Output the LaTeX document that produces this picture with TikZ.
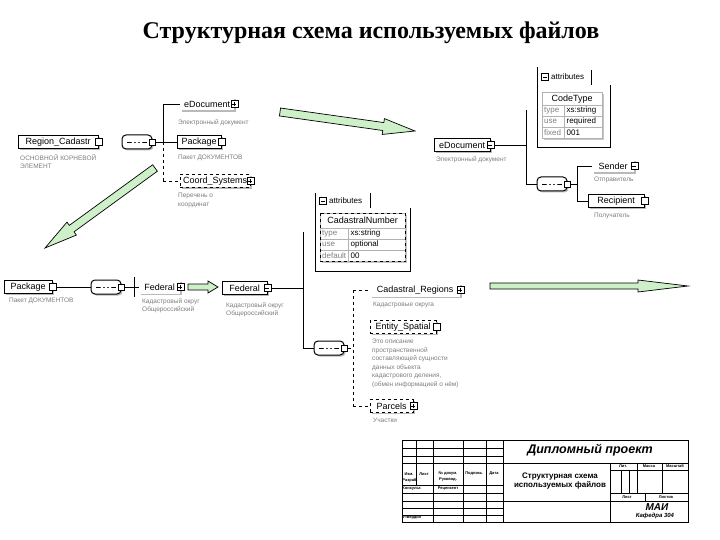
\documentclass[tikz,border=0pt]{standalone}
\usepackage{fontspec}
\setmainfont{Liberation Serif}
\newfontfamily\xsdfont{Liberation Sans}
\usetikzlibrary{calc, positioning, shadows}
\definecolor{arrowgreen}{RGB}{206, 240, 200}
\definecolor{notegray}{RGB}{125, 125, 125}

\tikzset{
  elem/.style={draw, fill=white, font=\xsdfont\fontsize{9}{10}\selectfont, inner xsep=3pt, inner ysep=0pt,
    minimum height=13pt, drop shadow={shadow xshift=1.5pt, shadow yshift=-1.5pt, fill=gray!55, opacity=1}},
  optelem/.style={elem, dashed},
  bareelem/.style={elem, draw=none},
  note/.style={anchor=north west, align=left, text=notegray, font=\xsdfont\fontsize{6.5}{8.5}\selectfont, inner sep=0pt},
  expbox/.style={draw, solid, fill=white, minimum size=7pt, inner sep=0pt},
  plusbox/.style={expbox, path picture={
      \draw[solid] ([xshift=1.5pt]path picture bounding box.west) -- ([xshift=-1.5pt]path picture bounding box.east);
      \draw[solid] ([yshift=1.5pt]path picture bounding box.south) -- ([yshift=-1.5pt]path picture bounding box.north);}},
  minusbox/.style={expbox, path picture={
      \draw[solid] ([xshift=1.5pt]path picture bounding box.west) -- ([xshift=-1.5pt]path picture bounding box.east);}},
  seqbox/.style={draw, line width=1pt, fill=white, rounded corners=4pt, minimum width=30pt, minimum height=14pt, inner sep=0pt,
    drop shadow={shadow xshift=1.5pt, shadow yshift=-1.5pt, fill=gray!55, opacity=1},
    path picture={
      \draw[sharp corners, solid, line width=0.8pt] ([xshift=5pt]path picture bounding box.west) -- ([xshift=-5pt]path picture bounding box.east);
      \foreach \d in {-4,0,4} \fill ([xshift=\d pt]path picture bounding box.center) circle (1.6pt);}},
  tblcell/.style={draw=gray!60, fill=white, anchor=north west, minimum height=11pt, inner ysep=0pt, inner xsep=2pt,
    align=left, font=\xsdfont\fontsize{8}{9}\selectfont,
    drop shadow={shadow xshift=1.5pt, shadow yshift=-1.5pt, fill=gray!45, opacity=1}},
  tblhead/.style={tblcell, align=center, minimum height=13pt, font=\xsdfont\fontsize{9}{10}\selectfont},
  tree/.style={line width=0.8pt},
  opttree/.style={line width=0.8pt, dashed},
  fatarr/.style={draw=black, fill=arrowgreen, line width=0.7pt, line join=miter},
  tbtxt/.style={inner sep=0pt, font=\xsdfont\bfseries\fontsize{4}{5}\selectfont},
}

% fat green arrow: from, to, half shaft, half head, head length
\newcommand{\fatarrow}[5]{%
  \coordinate (fahb) at ($(#2)!#5!(#1)$);
  \draw[fatarr] ($(#1)!#3!90:(#2)$) -- ($(fahb)!#3!90:(#2)$) -- ($(fahb)!#4!90:(#2)$) -- (#2)
    -- ($(fahb)!#4!-90:(#2)$) -- ($(fahb)!#3!-90:(#2)$) -- ($(#1)!#3!-90:(#2)$) -- cycle;}

\begin{document}
\begin{tikzpicture}[x=1pt, y=-1pt]
  \useasboundingbox (0,0) rectangle (720,540);

  \node[font=\bfseries\fontsize{24}{28}\selectfont] (title) at (371,33) {Структурная схема используемых файлов};

  % root element
  \node[elem, anchor=west, minimum width=80pt] (regcad) at (18,142) {Region\_Cadastr};
  \node[expbox] (regcadx) at (regcad.east) {};
  \node[note] (regcadn) at (20,154) {ОСНОВНОЙ КОРНЕВОЙ\\ЭЛЕМЕНТ};
  \node[seqbox] (seq1) at (137,142) {};
  \node[expbox, minimum size=6pt] (seq1x) at (seq1.east) {};
  \coordinate (trunk1) at (163,142);
  \coordinate (trunk1top) at (163,104);
  \coordinate (trunk1bot) at (163,181);
  \draw[tree] (seq1x.east) -- (trunk1);
  \draw[tree] (trunk1top) -- (trunk1);
  \draw[opttree] (trunk1) -- (trunk1bot);

  \node[bareelem, anchor=west, minimum width=54pt] (edoc1) at (180,104) {eDocument};
  \node[plusbox] (edoc1x) at (edoc1.east) {};
  \node[note] (edoc1n) at (178,119) {Электронный документ};
  \draw[tree] (trunk1top) -- (edoc1.west);

  \node[elem, anchor=west, minimum width=44pt] (pack1) at (177,142) {Package};
  \node[expbox] (pack1x) at (pack1.east) {};
  \node[note] (pack1n) at (178,155) {Пакет ДОКУМЕНТОВ};
  \draw[tree] (trunk1) -- (pack1.west);

  \node[optelem, anchor=west] (coord) at (180,181) {Coord\_Systems};
  \node[plusbox] (coordx) at (coord.east) {};
  \node[note] (coordn) at (178,193) {Перечень о\\координат};
  \draw[opttree] (trunk1bot) -- (coord.west);

  % eDocument
  \node[elem, anchor=west, minimum width=56pt] (edoc2) at (434,145) {eDocument};
  \node[minusbox] (edoc2x) at (edoc2.east) {};
  \node[note] (edoc2n) at (436,156) {Электронный документ};
  \coordinate (trunk2) at (526,145);
  \coordinate (trunk2top) at (526,110);
  \coordinate (trunk2bot) at (526,184);
  \draw[tree] (edoc2x.east) -- (trunk2);
  \draw[tree] (trunk2top) -- (trunk2bot);

  \draw[line width=0.8pt] (537,67) -- (537,147) -- (610,147) -- (610,85);
  \draw[line width=0.8pt] (591,70) -- (591,85);
  \node[minusbox] (attr1x) at (545,77) {};
  \node[anchor=west, inner sep=0pt, font=\xsdfont\fontsize{8}{9}\selectfont] (attr1) at (551,77) {attributes};
  \node[tblhead, text width=56pt] (codetype) at (542,92) {CodeType};
  \foreach \k/\v [count=\i] in {type/xs:string, use/required, fixed/001} {
    \node[tblcell, text width=18pt, text=gray] (ctk\i) at (542,{94+11*\i}) {\k};
    \node[tblcell, text width=34pt] (ctv\i) at (ctk\i.north east) {\v};
  }

  \node[seqbox] (seq2) at (552,184) {};
  \node[expbox, minimum size=6pt] (seq2x) at (seq2.east) {};
  \draw[tree] (trunk2bot) -- (seq2.west);
  \coordinate (trunk3) at (577,184);
  \coordinate (trunk3top) at (577,166);
  \coordinate (trunk3bot) at (577,201);
  \draw[tree] (seq2x.east) -- (trunk3);
  \draw[tree] (trunk3top) -- (trunk3bot);

  \node[bareelem, anchor=west, minimum width=42pt] (sender) at (592,166) {Sender};
  \node[minusbox] (senderx) at (sender.east) {};
  \node[note] (sendern) at (594,177) {Отправитель};
  \draw[tree] (trunk3top) -- (sender.west);
  \node[elem, anchor=west, minimum width=56pt] (recip) at (588,201) {Recipient};
  \node[expbox] (recipx) at (recip.east) {};
  \node[note] (recipn) at (594,213) {Получатель};
  \draw[tree] (trunk3bot) -- (recip.west);

  % Package / Federal
  \node[elem, anchor=west, minimum width=48pt] (pack2) at (4,287) {Package};
  \node[expbox] (pack2x) at (pack2.east) {};
  \node[note] (pack2n) at (9,298) {Пакет ДОКУМЕНТОВ};
  \node[seqbox] (seq3) at (106,287) {};
  \node[expbox, minimum size=6pt] (seq3x) at (seq3.east) {};
  \draw[tree] (pack2x.east) -- (seq3.west);
  \coordinate (trunk4) at (134,287);
  \coordinate (trunk4top) at (134,277);
  \coordinate (trunk4bot) at (134,297);
  \draw[tree] (seq3x.east) -- (trunk4);
  \draw[tree] (trunk4top) -- (trunk4bot);
  \node[bareelem, anchor=west, minimum width=41pt] (fed1) at (139,287) {Federal};
  \node[plusbox] (fed1x) at (fed1.east) {};
  \node[note] (fed1n) at (142,298) {Кадастровый округ\\Общероссийский};
  \draw[tree] (trunk4) -- (fed1.west);

  \node[elem, anchor=west, minimum width=45pt] (fed2) at (222,288) {Federal};
  \node[minusbox] (fed2x) at (fed2.east) {};
  \node[note] (fed2n) at (226,302) {Кадастровый округ\\Общероссийский};
  \coordinate (trunk5) at (303,288);
  \coordinate (trunk5top) at (303,232);
  \coordinate (trunk5bot) at (303,348);
  \draw[tree] (fed2x.east) -- (trunk5);
  \draw[tree] (trunk5top) -- (trunk5bot);

  \draw[line width=0.8pt] (315,193) -- (315,271) -- (410,271) -- (410,208);
  \draw[line width=0.8pt] (370,193) -- (370,208);
  \node[minusbox] (attr2x) at (323,201) {};
  \node[anchor=west, inner sep=0pt, font=\xsdfont\fontsize{8}{9}\selectfont] (attr2) at (329,201) {attributes};
  \node[tblhead, text width=81pt, minimum height=15pt] (cadnum) at (320,213) {CadastralNumber};
  \foreach \k/\v [count=\i] in {type/xs:string, use/optional, default/00} {
    \node[tblcell, text width=24pt, text=gray] (cnk\i) at (320,{217+11*\i}) {\k};
    \node[tblcell, text width=53pt] (cnv\i) at (cnk\i.north east) {\v};
  }
  \draw[dashed, line width=0.8pt] (cadnum.north west) rectangle (cnv3.south east);

  \node[seqbox] (seq4) at (329,348) {};
  \node[expbox, minimum size=6pt] (seq4x) at (seq4.east) {};
  \draw[tree] (trunk5bot) -- (seq4.west);
  \coordinate (trunk6) at (353,348);
  \coordinate (trunk6top) at (353,290);
  \coordinate (trunk6bot) at (353,406);
  \draw[opttree] (seq4x.east) -- (trunk6);
  \draw[opttree] (trunk6top) -- (trunk6bot);

  \node[bareelem, anchor=west, minimum width=90pt] (cadreg) at (370,290) {Cadastral\_Regions};
  \node[plusbox] (cadregx) at (cadreg.east) {};
  \node[note] (cadregn) at (373,302) {Кадастровые округа};
  \draw[opttree] (trunk6top) -- (cadreg.west);
  \node[optelem, anchor=west, minimum width=66pt] (entity) at (370,327) {Entity\_Spatial};
  \node[expbox] (entityx) at (entity.east) {};
  \node[note] (entityn) at (372,339) {Это описание\\пространственной\\составляющей сущности\\данных объекта\\кадастрового деления,\\(обмен информацией о нём)};
  \node[optelem, anchor=west, minimum width=43pt] (parcels) at (370,406) {Parcels};
  \node[plusbox] (parcelsx) at (parcels.east) {};
  \node[note] (parcelsn) at (373,418) {Участки};
  \draw[opttree] (trunk6bot) -- (parcels.west);

  % green arrows
  \coordinate (a1s) at (280,112);
  \coordinate (a1e) at (415,131);
  \fatarrow{a1s}{a1e}{4pt}{8pt}{32pt}
  \coordinate (a2s) at (155,168);
  \coordinate (a2e) at (45,248);
  \fatarrow{a2s}{a2e}{4pt}{8pt}{33pt}
  \coordinate (a3s) at (490,286);
  \coordinate (a3e) at (688,286);
  \fatarrow{a3s}{a3e}{3pt}{6pt}{50pt}
  \coordinate (a4s) at (188,287);
  \coordinate (a4e) at (218,287);
  \fatarrow{a4s}{a4e}{3pt}{6pt}{10pt}

  % title block
  \begin{scope}[line width=1pt]
    \draw (402,440) rectangle (688,522);
    \draw (416,440) -- (416,485);
    \foreach \x in {433,463,486,503} \draw (\x,440) -- (\x,522);
    \foreach \y in {448,456,463,485,493,501,508,515} \draw (402,\y) -- (503,\y);
    \draw (503,463) -- (688,463);
    \draw (610,463) -- (610,522);
    \draw (610,470) -- (688,470);
    \foreach \x in {637,662} \draw (\x,463) -- (\x,493);
    \foreach \x in {621,629} \draw[line width=0.6pt] (\x,470) -- (\x,493);
    \draw (610,493) -- (688,493);
    \draw (645,493) -- (645,501);
    \draw (503,501) -- (688,501);
  \end{scope}
  \node[tbtxt] (tb1) at (409,474) {Изм.};
  \node[tbtxt] (tb2) at (424,474) {Лист};
  \node[tbtxt] (tb3) at (448,474) {№ докум.};
  \node[tbtxt] (tb4) at (474,474) {Подпись};
  \node[tbtxt] (tb5) at (494,474) {Дата};
  \node[tbtxt] (tb6) at (410,480) {Разраб.};
  \node[tbtxt] (tb7) at (448,480) {Руковод.};
  \node[tbtxt] (tb8) at (412,489) {Консульт.};
  \node[tbtxt] (tb9) at (448,489) {Рецензент};
  \node[tbtxt] (tb10) at (412,518) {Утвердил};
  \node[tbtxt] (tb11) at (623,466.5) {Лит.};
  \node[tbtxt] (tb12) at (649,466.5) {Масса};
  \node[tbtxt] (tb13) at (675,466.5) {Масштаб};
  \node[tbtxt] (tb14) at (627,497) {Лист};
  \node[tbtxt] (tb15) at (666,497) {Листов};
  \node[font=\xsdfont\bfseries\itshape\fontsize{12.5}{14}\selectfont, inner sep=0pt] (diplom) at (590,450) {Дипломный проект};
  \node[font=\xsdfont\bfseries\fontsize{8}{9.5}\selectfont, align=center, inner sep=0pt] (sheet) at (560,481) {Структурная схема\\используемых файлов};
  \node[font=\xsdfont\bfseries\itshape\fontsize{10}{11}\selectfont, inner sep=0pt] (mai) at (657,507) {МАИ};
  \node[font=\xsdfont\bfseries\itshape\fontsize{6}{7}\selectfont, inner sep=0pt] (kafedra) at (655,516) {Кафедра 304};
\end{tikzpicture}
\end{document}
